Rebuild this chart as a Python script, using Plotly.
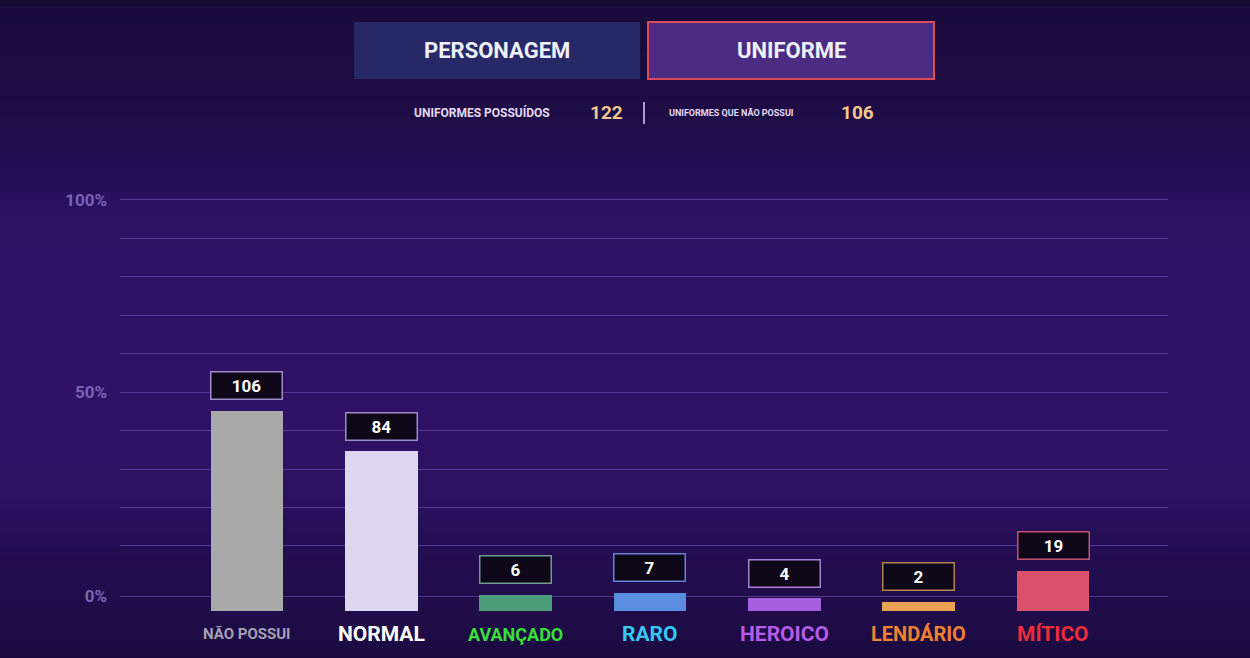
import plotly.graph_objects as go

# ---------------- data ----------------
categories = ["NÃO POSSUI", "NORMAL", "AVANÇADO", "RARO", "HEROICO", "LENDÁRIO", "MÍTICO"]
counts = [106, 84, 6, 7, 4, 2, 19]
owned_total = 122
not_owned_total = 106
pct_ticks = [10, 20, 30, 40, 50, 60, 70, 80, 90, 100]
pct_labels = ["", "", "", "", "50%", "", "", "", "", "100%"]
zero_label = "0%"

# ---------------- styles ----------------
bar_colors = ["#a9a9a9", "#ddd6f0", "#4c9e7a", "#5b8de0", "#a65fe0", "#e9a152", "#d9526a"]
box_borders = ["#9d8cc9", "#9d8cc9", "#6f9c8c", "#6c7fd0", "#a583dc", "#b4834f", "#c4516f"]
label_colors = ["#a6a1b8", "#ffffff", "#36e036", "#33c9f0", "#b65ce8", "#ef8232", "#ee2c3c"]
label_sizes = [15, 21, 18, 21, 21, 20, 21]
BAR_PAD = 2.9          # visual foot under every bar (count units)
ZERO_LINE = -3.02      # position of the drawn "0%" line on the percent scale

FONT = "Roboto, sans-serif"
W, H = 1250, 658
L, R, T, B = 120, 82, 180, 47
PW, PH = W - L - R, H - T - B


def px(x):
    return (x - L) / PW


def py(y):
    return (H - B - y) / PH


fig = go.Figure()

# bar foot + bar body (stacked)
fig.add_trace(go.Bar(
    x=categories, y=[BAR_PAD] * len(categories), width=0.54,
    marker=dict(color=bar_colors, line=dict(width=0)),
    hoverinfo="skip", showlegend=False,
))
fig.add_trace(go.Bar(
    x=categories, y=counts, width=0.54,
    marker=dict(color=bar_colors, line=dict(width=0)),
    hoverinfo="skip", showlegend=False,
))
# empty trace to attach the percentage axis
fig.add_trace(go.Scatter(x=[], y=[], yaxis="y2", showlegend=False, hoverinfo="skip"))

# value boxes
for c, v, bc in zip(categories, counts, box_borders):
    fig.add_annotation(
        x=c, y=v, xref="x", yref="y", yanchor="bottom", yshift=16,
        text=f"<b>{v}</b>", showarrow=False,
        font=dict(family=FONT, size=17, color="#ffffff"),
        bgcolor="#0d0717", bordercolor=bc, borderwidth=1.5, borderpad=2,
        width=66, height=22,
    )

# category labels
for c, col, s in zip(categories, label_colors, label_sizes):
    fig.add_annotation(
        x=c, y=py(634), xref="x", yref="paper", yanchor="middle",
        text=f"<b>{c}</b>", showarrow=False,
        font=dict(family=FONT, size=s, color=col),
    )

# ---------------- background gradient ----------------
stops = [
    (0, (18, 10, 40)), (6, (26, 11, 60)), (100, (29, 12, 68)), (160, (35, 14, 82)),
    (210, (42, 17, 96)), (270, (46, 17, 101)), (420, (47, 17, 102)), (490, (44, 17, 98)),
    (560, (35, 13, 80)), (620, (31, 12, 72)), (658, (27, 10, 64)),
]


def col_at(y):
    for (y0, c0), (y1, c1) in zip(stops[:-1], stops[1:]):
        if y0 <= y <= y1:
            t = (y - y0) / (y1 - y0) if y1 > y0 else 0
            return "rgb(%d,%d,%d)" % tuple(round(a + (b - a) * t) for a, b in zip(c0, c1))
    return "rgb(%d,%d,%d)" % stops[-1][1]


shapes = []
step = 6
for y in range(0, H, step):
    shapes.append(dict(
        type="rect", xref="paper", yref="paper", layer="below",
        x0=px(0), x1=px(W), y0=py(y + step + 1), y1=py(y),
        fillcolor=col_at(y + step / 2), line=dict(width=0),
    ))

# top buttons
shapes.append(dict(type="rect", xref="paper", yref="paper", layer="above",
                   x0=px(354), x1=px(640), y0=py(79), y1=py(22),
                   fillcolor="#262966", line=dict(width=0)))
shapes.append(dict(type="rect", xref="paper", yref="paper", layer="above",
                   x0=px(648), x1=px(934), y0=py(79), y1=py(22),
                   fillcolor="#4b2c82", line=dict(color="#dc4a58", width=2)))
# divider
shapes.append(dict(type="line", xref="paper", yref="paper", layer="above",
                   x0=px(644), x1=px(644), y0=py(124), y1=py(102),
                   line=dict(color="#a99dcc", width=2)))

fig.update_layout(shapes=shapes)


def txt(x, y, s, size, color):
    fig.add_annotation(x=px(x), y=py(y), xref="paper", yref="paper", showarrow=False,
                       xanchor="center", yanchor="middle",
                       text=f"<b>{s}</b>", font=dict(family=FONT, size=size, color=color))


txt(497, 50, "PERSONAGEM", 22, "#eef0fb")
txt(791, 50, "UNIFORME", 22, "#eef0fb")
txt(482, 113, "UNIFORMES POSSUÍDOS", 12, "#e2dbf2")
txt(606, 113, owned_total, 19, "#f3c68c")
txt(731, 113, "UNIFORMES QUE NÃO POSSUI", 9, "#e2dbf2")
txt(857, 113, not_owned_total, 19, "#f3c68c")

fig.update_layout(
    width=W, height=H,
    margin=dict(l=L, r=R, t=T, b=B, pad=0),
    paper_bgcolor="#240e52", plot_bgcolor="rgba(0,0,0,0)",
    barmode="stack",
    xaxis=dict(type="category", range=[-0.945, 6.856], showticklabels=False,
               showgrid=False, zeroline=False, showline=False, ticks=""),
    yaxis=dict(range=[0, 234.6], showgrid=False, zeroline=False, showticklabels=False,
               showline=False, ticks=""),
    yaxis2=dict(overlaying="y", side="left", range=[-6.92, 105.19],
                tickvals=[ZERO_LINE] + pct_ticks, ticktext=[zero_label] + pct_labels,
                showgrid=True, gridcolor="rgba(125,98,205,0.5)", gridwidth=1.3,
                zeroline=False, showline=False, ticks="", ticklabelstandoff=12,
                tickfont=dict(family=FONT, size=17, color="#7a63b6", weight="bold")),
    font=dict(family=FONT),
    bargap=0,
)

fig.write_html("out.html")
